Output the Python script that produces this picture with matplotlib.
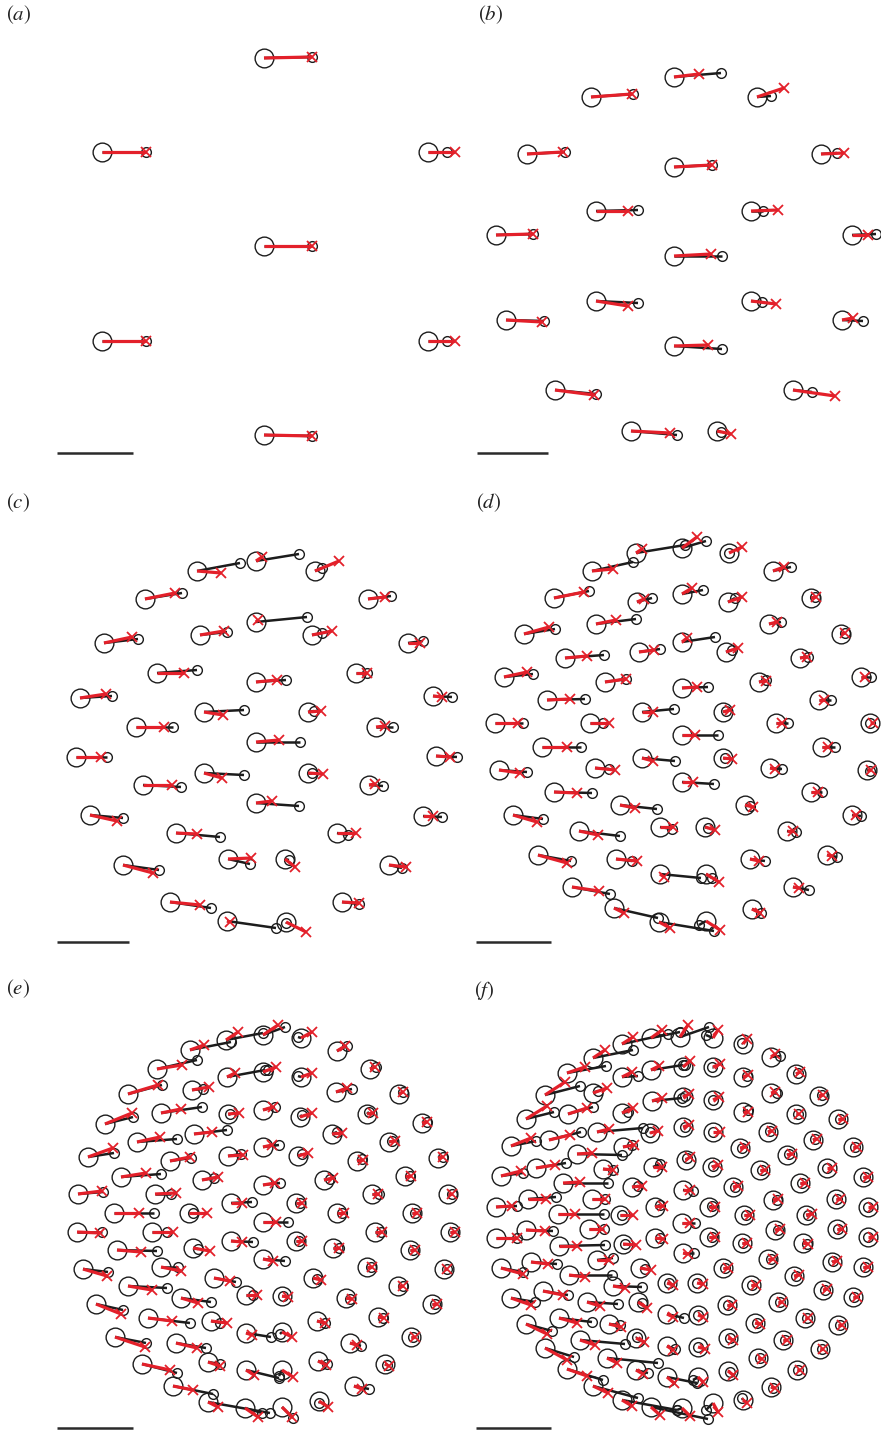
import matplotlib
matplotlib.use('Agg')
import matplotlib.pyplot as plt

plt.rcParams['mathtext.fontset'] = 'stix'

# ---------------- data (panel-local pixel coordinates, y downward) ----------------
# start = large circle, end = small circle (black link), pred = red cross (red link)
a_start = [(264,58),(102,152),(428,152),(264,246),(102,341),(428,341),(264,435)]
a_end   = [(312,57),(146,152),(447,152),(312,246),(146,341),(447,341),(312,436)]
a_pred  = [(312,57),(146,152),(455,152),(312,246),(146,341),(455,341),(312,436)]

b_start = [(234,77),(151,97),(317,97),(87,154),(234,167),(381,154),(156,211),(311,211),(56,235),(412,235),
           (234,256),(156,301),(311,301),(66,320),(402,320),(234,346),(115,390),(353,390),(191,431),(277,431)]
b_end   = [(281,73),(193,94),(331,96),(125,152),(272,165),(397,153),(198,210),(323,211),(93,234),(436,234),
           (282,256),(198,303),(322,302),(104,321),(423,321),(282,349),(156,394),(372,392),(237,435),(281,432)]
b_pred  = [(259,74),(192,94),(344,88),(123,152),(272,165),(404,153),(188,211),(338,210),(93,234),(428,235),
           (271,254),(188,306),(336,304),(102,322),(413,318),(268,345),(154,395),(395,396),(230,433),(291,434)]

c_start = [(197,91),(256,81),(315,91),(145,119),(368,119),(256,142),(200,155),(312,155),(104,163),(408,163),
           (157,193),(256,202),(356,193),(80,218),(433,216),(204,232),(308,232),(136,247),(376,247),(256,262),
           (76,277),(436,276),(204,293),(308,293),(143,305),(369,305),(256,323),(90,335),(423,336),(176,353),
           (337,353),(123,385),(228,379),(285,379),(389,385),(170,422),(342,422),(227,441),(286,442)]
c_end   = [(240,83),(299,74),(322,88),(182,113),(391,116),(307,137),(227,152),(322,153),(138,159),(423,161),
           (197,190),(286,200),(367,193),(112,216),(452,217),(244,230),(314,231),(173,247),(393,247),(300,262),
           (107,277),(457,277),(244,295),(312,293),(181,307),(383,306),(299,326),(123,338),(442,337),(220,357),
           (348,355),(159,390),(250,384),(289,380),(402,388),(211,428),(359,424),(276,448),(286,443)]
c_pred  = [(221,93),(262,77),(339,81),(175,113),(385,117),(258,140),(224,151),(332,151),(132,157),(420,163),
           (184,193),(277,200),(367,193),(106,214),(442,217),(223,235),(321,231),(164,247),(385,246),(279,260),
           (101,277),(450,277),(222,298),(323,294),(172,305),(375,304),(272,321),(117,341),(433,336),(197,354),
           (356,353),(153,393),(251,378),(295,387),(406,387),(200,425),(359,423),(230,442),(306,452)]

d_start = [(196,73),(242,68),(289,73),(152,91),(333,91),(114,118),(197,122),(242,114),(288,122),(371,118),
           (84,154),(156,144),(329,144),(242,162),(199,172),(286,172),(401,154),(125,178),(360,178),(64,197),
           (165,202),(319,202),(421,197),(242,208),(107,220),(379,220),(202,232),(283,232),(55,243),(150,243),
           (336,243),(430,243),(242,255),(102,267),(382,267),(202,278),(283,278),(59,290),(155,288),(330,288),
           (427,290),(242,302),(114,312),(371,312),(180,325),(305,325),(73,335),(412,335),(220,347),(265,347),
           (139,351),(347,351),(98,375),(176,379),(310,379),(387,375),(220,394),(266,394),(132,407),(353,407),
           (174,428),(219,442),(266,441),(312,429)]
d_end   = [(245,65),(266,61),(289,73),(193,82),(351,87),(149,111),(212,118),(263,110),(295,118),(375,117),
           (115,149),(196,139),(341,142),(275,157),(220,169),(292,170),(405,153),(164,175),(368,177),(93,194),
           (186,199),(326,200),(431,197),(268,207),(145,219),(391,220),(234,229),(286,231),(83,243),(163,243),
           (348,243),(430,243),(278,255),(141,267),(395,267),(235,281),(285,278),(87,292),(169,289),(342,289),
           (430,291),(274,304),(152,313),(382,312),(217,329),(310,326),(103,339),(421,336),(232,349),(268,348),
           (180,356),(356,352),(131,381),(192,381),(325,381),(397,377),(261,398),(272,398),(170,414),(369,410),
           (218,438),(274,451),(259,445),(321,433)]
d_pred  = [(202,69),(257,57),(302,67),(173,89),(344,87),(144,112),(204,119),(252,108),(302,117),(376,117),
           (109,147),(176,140),(337,142),(247,158),(214,170),(298,168),(405,153),(147,176),(367,177),(87,192),
           (186,199),(326,201),(425,197),(257,207),(130,219),(384,220),(213,232),(290,230),(78,243),(169,243),
           (342,243),(433,243),(255,255),(127,267),(388,267),(213,281),(292,279),(80,293),(175,290),(335,289),
           (431,290),(253,302),(137,313),(378,312),(195,328),(313,327),(97,342),(416,335),(233,347),(275,350),
           (158,355),(353,351),(127,383),(197,381),(319,381),(392,376),(224,397),(279,402),(159,411),(359,408),
           (184,433),(230,448),(280,450),(320,433)]

e_start = [(190,80),(226,70),(263,65),(301,68),(337,81),(157,99),(227,107),(263,102),(301,107),(370,99),
           (128,124),(192,120),(336,122),(399,124),(161,143),(228,144),(263,140),(300,147),(367,144),(105,154),
           (194,164),(332,164),(422,153),(137,172),(263,177),(228,186),(298,186),(389,172),(88,187),(170,191),
           (357,191),(438,188),(263,215),(324,210),(405,206),(296,233),(372,224),(448,224),(263,252),(337,243),
           (412,243),(296,271),(375,262),(450,262),(263,289),(333,278),(410,280),(367,297),(444,299),(313,308),
           (398,316),(282,326),(346,328),(432,334),(317,351),(378,347),(282,362),(411,367),(350,373),(318,391),
           (385,394),(282,400),(354,416),(319,431),(282,437),(121,207),(202,210),(78,224),(155,224),(231,233),
           (114,243),(189,243),(77,262),(152,262),(231,271),(117,280),(193,278),(161,297),(83,299),(214,308),
           (246,325),(128,316),(181,328),(96,334),(211,351),(148,348),(246,363),(115,367),(176,373),(208,392),
           (246,400),(142,394),(173,416),(208,432),(245,438)]
e_end   = [(231,72),(263,63),(285,57),(298,67),(347,76),(197,90),(265,100),(268,100),(298,106),(376,97),
           (162,115),(203,119),(352,119),(403,122),(202,137),(230,144),(275,137),(302,145),(369,142),(133,147),
           (227,160),(337,162),(427,152),(177,169),(279,175),(241,184),(302,184),(392,171),(114,183),(191,188),
           (362,189),(443,187),(280,213),(330,209),(410,206),(300,233),(379,224),(452,224),(288,252),(342,243),
           (415,243),(299,271),(381,262),(453,262),(285,291),(339,278),(413,280),(371,297),(447,299),(317,309),
           (403,316),(283,326),(350,329),(435,334),(325,353),(383,348),(280,364),(413,367),(361,376),(327,394),
           (387,395),(279,406),(369,419),(319,433),(293,448),(161,204),(214,208),(103,222),(171,224),(252,232),
           (154,243),(193,243),(102,262),(167,262),(253,272),(157,281),(198,279),(178,297),(108,302),(236,312),
           (253,325),(167,318),(211,332),(123,340),(220,353),(190,353),(271,367),(146,373),(206,378),(220,394),
           (279,408),(177,403),(213,424),(270,443),(262,443)]
e_pred  = [(204,75),(238,62),(278,55),(312,62),(345,76),(182,95),(235,103),(276,97),(312,103),(375,97),
           (158,115),(209,117),(347,118),(403,122),(181,139),(239,143),(273,137),(312,143),(373,143),(132,143),
           (212,162),(342,163),(427,152),(160,167),(272,175),(243,185),(308,183),(395,171),(113,178),(190,187),
           (363,190),(443,187),(275,213),(333,208),(411,206),(302,233),(378,224),(452,224),(276,252),(344,243),
           (417,243),(302,271),(382,262),(455,262),(273,291),(339,278),(415,280),(372,297),(447,299),(321,310),
           (403,316),(288,327),(352,329),(437,334),(325,353),(384,348),(292,367),(415,367),(357,375),(326,395),
           (389,396),(293,407),(362,419),(328,437),(292,447),(146,203),(218,207),(102,221),(176,223),(242,233),
           (139,243),(207,243),(100,263),(173,262),(242,272),(141,282),(210,281),(181,301),(107,306),(230,311),
           (257,325),(152,320),(198,333),(121,344),(227,353),(172,351),(252,365),(145,377),(197,378),(220,396),
           (254,405),(170,400),(193,420),(218,437),(258,447)]

f_start = [(182,74),(211,68),(240,67),(273,68),(153,88),(127,103),(105,125),(86,149),(71,176),(61,206),
           (56,237),(56,268),(61,298),(71,328),(86,354),(105,378),(127,399),(153,416),(182,430),(211,437),
           (242,438),(273,433),(273,97),(243,97),(211,100),(182,107),(153,123),(128,144),(109,170),(303,74),
           (303,107),(331,87),(356,104),(379,126),(273,130),(243,127),(212,131),(182,143),(303,142),(331,123),
           (356,144),(398,149),(157,162),(210,163),(243,157),(273,162),(328,162),(373,170),(413,177),(300,178),
           (347,185),(272,197),(320,200),(387,198),(423,207),(246,190),(213,197),(183,177),(137,184),(163,199),
           (96,198),(123,213),(192,217),(243,220),(293,217),(333,230),(396,229),(428,237),(88,229),(152,229),
           (215,237),(269,237),(304,245),(366,245),(118,244),(180,245),(242,253),(335,260),(397,259),(428,267),
           (86,260),(149,259),(215,268),(269,267),(302,273),(363,273),(119,276),(183,274),(243,283),(328,289),
           (392,292),(423,297),(91,292),(157,290),(200,298),(283,298),(354,306),(129,305),(173,316),(227,313),
           (257,313),(311,315),(383,320),(413,327),(103,321),(147,332),(198,332),(338,332),(287,335),(227,344),
           (258,345),(315,353),(365,348),(398,355),(119,348),(169,354),(140,370),(196,368),(227,376),(258,377),
           (288,368),(343,370),(380,379),(318,388),(357,400),(167,388),(196,400),(227,407),(258,407),(288,401),
           (331,417),(303,430),(360,213)]
f_end   = [(228,64),(240,62),(269,57),(266,65),(193,80),(166,96),(140,116),(114,142),(96,171),(83,203),
           (77,236),(77,268),(83,302),(95,332),(112,361),(134,387),(163,410),(198,428),(237,440),(268,449),
           (237,440),(266,440),(272,97),(245,95),(243,95),(198,106),(158,121),(153,137),(141,162),(302,73),
           (307,106),(340,86),(358,103),(382,125),(273,130),(245,126),(242,128),(188,142),(308,140),(337,123),
           (358,144),(400,149),(203,158),(210,162),(245,157),(273,162),(330,161),(375,169),(415,177),(302,178),
           (349,184),(273,196),(322,200),(387,198),(425,207),(247,188),(220,194),(192,175),(182,185),(173,200),
           (126,193),(168,213),(198,216),(253,221),(295,217),(337,230),(397,229),(428,237),(116,227),(165,229),
           (220,235),(272,236),(306,245),(368,245),(164,244),(182,245),(255,253),(338,260),(398,259),(428,267),
           (113,261),(164,259),(220,268),(272,267),(303,273),(367,274),(165,275),(185,274),(254,283),(331,289),
           (393,291),(425,297),(117,294),(173,288),(205,299),(285,298),(356,306),(172,305),(202,317),(229,313),
           (257,313),(312,315),(385,320),(414,327),(128,325),(178,334),(202,333),(340,332),(288,335),(244,348),
           (258,345),(317,353),(367,348),(400,355),(152,352),(180,355),(185,374),(197,367),(235,379),(258,377),
           (290,368),(345,370),(382,379),(320,388),(358,400),(218,393),(208,403),(257,413),(253,410),(290,402),
           (333,418),(302,428),(362,213)]
f_pred  = [(193,67),(222,60),(248,55),(278,60),(165,80),(145,97),(125,112),(107,136),(91,168),(81,201),
           (72,236),(77,268),(83,304),(91,335),(107,364),(127,390),(147,406),(168,423),(192,436),(220,445),
           (250,446),(278,442),(280,94),(250,91),(219,96),(192,102),(167,118),(147,138),(130,165),(307,69),
           (308,105),(335,84),(360,102),(383,125),(279,127),(249,124),(222,128),(193,138),(308,142),(335,122),
           (359,144),(403,149),(169,159),(218,161),(249,155),(280,162),(332,161),(377,169),(417,177),(305,177),
           (352,184),(278,195),(325,200),(392,198),(428,207),(250,187),(222,197),(194,175),(152,183),(173,200),
           (115,195),(140,212),(202,216),(250,220),(298,216),(338,229),(400,229),(433,237),(106,229),(165,229),
           (223,236),(275,237),(310,245),(372,244),(135,244),(193,245),(250,253),(340,259),(402,259),(433,267),
           (105,261),(162,259),(223,269),(275,267),(307,273),(368,274),(137,276),(196,275),(248,284),(333,289),
           (397,291),(428,297),(108,294),(169,290),(211,300),(288,298),(359,305),(145,307),(185,318),(233,315),
           (263,314),(316,315),(387,319),(417,327),(123,325),(160,336),(207,338),(342,332),(292,335),(233,347),
           (263,347),(320,354),(368,348),(402,355),(137,353),(181,357),(155,375),(204,372),(233,380),(265,379),
           (293,370),(347,370),(383,379),(322,389),(360,400),(177,393),(203,404),(234,413),(263,412),(293,405),
           (335,418),(307,433),(365,213)]

# scale bars: (x0, x1, y) in panel-local pixels
a_bar = (57, 133, 453)
b_bar = (37, 108, 453)
c_bar = (57, 129, 462)
d_bar = (36, 111, 462)
e_bar = (57, 133, 458)
f_bar = (36, 111, 458)

panel_labels = ['a', 'b', 'c', 'd', 'e', 'f']

# ---------------- layout ----------------
FW, FH = 881, 1430
fig = plt.figure(figsize=(FW / 100, FH / 100), dpi=100)

# panel boxes in figure pixels (left, top, width, height) and label anchor (x, y) local
boxes = {'a': (0, 0, 440, 480), 'b': (440, 0, 441, 480),
         'c': (0, 480, 440, 490), 'd': (440, 480, 441, 490),
         'e': (0, 970, 440, 460), 'f': (440, 970, 441, 460)}
label_pos = {'a': (6, 15), 'b': (38, 15), 'c': (6, 23), 'd': (36, 23), 'e': (6, 19), 'f': (34, 20)}

data = {'a': (a_start, a_end, a_pred, a_bar), 'b': (b_start, b_end, b_pred, b_bar),
        'c': (c_start, c_end, c_pred, c_bar), 'd': (d_start, d_end, d_pred, d_bar),
        'e': (e_start, e_end, e_pred, e_bar), 'f': (f_start, f_end, f_pred, f_bar)}

RED = '#e3202a'
BLK = '#1c1c1c'

for key in panel_labels:
    l, t, w, h = boxes[key]
    ax = fig.add_axes([l / FW, 1 - (t + h) / FH, w / FW, h / FH])
    ax.set_xlim(0, w)
    ax.set_ylim(h, 0)
    ax.axis('off')
    start, end, pred, bar = data[key]
    sx = [p[0] for p in start]; sy = [p[1] for p in start]
    ex = [p[0] for p in end]; ey = [p[1] for p in end]
    px = [p[0] for p in pred]; py = [p[1] for p in pred]

    # large circles (start)
    ax.plot(sx, sy, 'o', ms=13.5, mfc='none', mec=BLK, mew=1.0, ls='none', zorder=2, clip_on=False)
    # black links to small circles
    for x0, y0, x1, y1 in zip(sx, sy, ex, ey):
        ax.plot([x0, x1], [y0, y1], color=BLK, lw=1.8, solid_capstyle='butt', zorder=3, clip_on=False)
    ax.plot(ex, ey, 'o', ms=7, mfc='none', mec=BLK, mew=1.0, ls='none', zorder=4, clip_on=False)
    # red links and crosses
    for x0, y0, x1, y1 in zip(sx, sy, px, py):
        ax.plot([x0, x1], [y0, y1], color=RED, lw=2.3, solid_capstyle='butt', zorder=5, clip_on=False)
    ax.plot(px, py, 'x', ms=6.5, mec=RED, mew=1.3, ls='none', zorder=6, clip_on=False)

    # scale bar
    ax.plot([bar[0], bar[1]], [bar[2], bar[2]], color='#2a2a2a', lw=1.8, solid_capstyle='butt', clip_on=False)

    # panel label
    lx, ly = label_pos[key]
    ax.text(lx, ly, r'$(%s)$' % key, fontsize=15, ha='left', va='center', color='#222222')

fig.savefig('out.png', dpi=100)
